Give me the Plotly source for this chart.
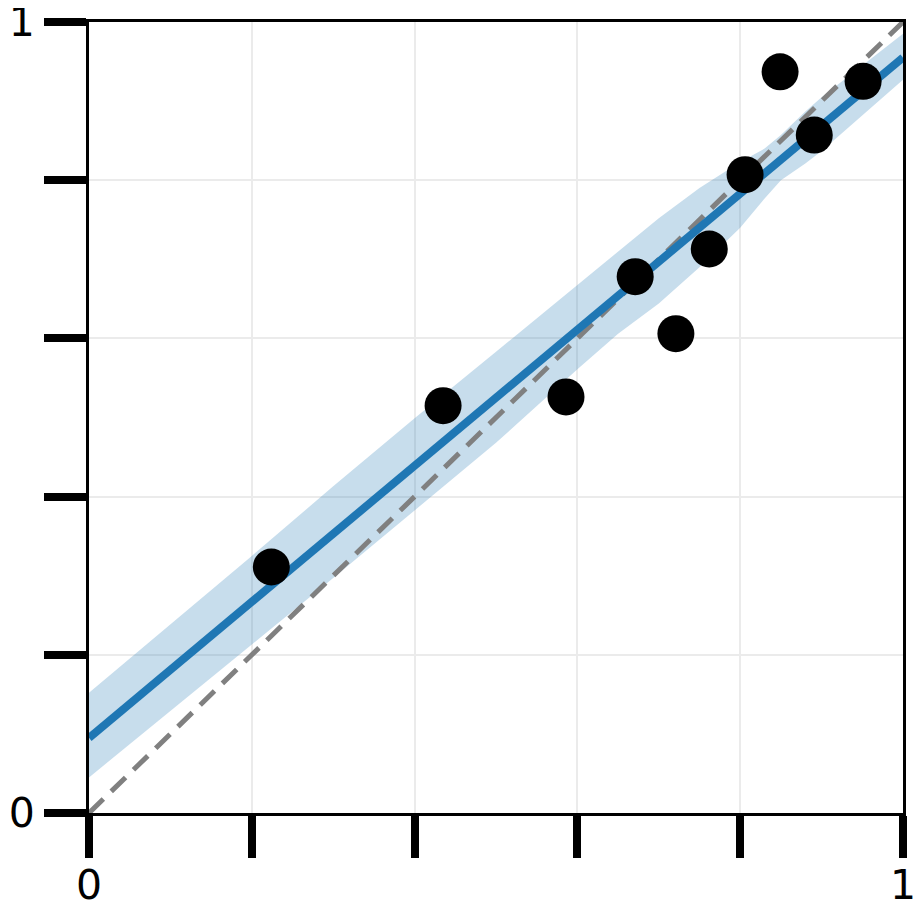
"""Калибровочный график: точки, регрессия и доверительная полоса."""

import plotly.graph_objects as go

# наблюдения
pts_x = [0.224, 0.435, 0.586, 0.671, 0.721, 0.762, 0.806, 0.849, 0.891, 0.951]
pts_y = [0.311, 0.515, 0.526, 0.678, 0.606, 0.713, 0.807, 0.937, 0.857, 0.925]

# линия регрессии
fit_x = [0.0, 1.0]
fit_y = [0.095, 0.955]

# доверительная полоса
band_x = [0.0, 0.1, 0.2, 0.3, 0.4, 0.5, 0.6, 0.65, 0.7, 0.75, 0.8, 0.83,
          0.85, 0.88, 0.9, 0.95, 1.0]
band_hi = [0.152, 0.238, 0.325, 0.413, 0.499, 0.583, 0.667, 0.710, 0.752,
           0.790, 0.823, 0.840, 0.857, 0.887, 0.905, 0.945, 0.985]
band_lo = [0.045, 0.129, 0.213, 0.297, 0.382, 0.468, 0.561, 0.606, 0.644,
           0.690, 0.740, 0.777, 0.800, 0.821, 0.837, 0.882, 0.927]

# диагональ y = x
diag_x = [0.0, 1.0]
diag_y = [0.0, 1.0]

tick_vals = [0, 0.2, 0.4, 0.6, 0.8, 1]
tick_text = ["0", "", "", "", "", "1"]

fig = go.Figure()

fig.add_trace(go.Scatter(
    x=band_x + band_x[::-1],
    y=band_hi + band_lo[::-1],
    fill="toself",
    fillcolor="rgba(31,119,180,0.25)",
    line=dict(width=0),
    mode="lines",
    hoverinfo="skip",
))
fig.add_trace(go.Scatter(
    x=diag_x, y=diag_y, mode="lines",
    line=dict(color="#808080", width=5, dash="20px,11px"),
))
fig.add_trace(go.Scatter(
    x=fit_x, y=fit_y, mode="lines",
    line=dict(color="#1f77b4", width=8),
))
fig.add_trace(go.Scatter(
    x=pts_x, y=pts_y, mode="markers",
    marker=dict(color="black", size=37),
))

axis_style = dict(
    range=[0, 1],
    tickvals=tick_vals,
    ticktext=tick_text,
    ticks="outside",
    ticklen=42,
    tickwidth=8,
    tickcolor="black",
    showline=True,
    linecolor="black",
    linewidth=3,
    mirror=True,
    showgrid=True,
    gridcolor="#ebebeb",
    gridwidth=2,
    zeroline=False,
    automargin=False,
    ticklabeloverflow="allow",
    tickfont=dict(family="DejaVu Sans", size=41, color="black"),
)

# у страницы есть отступ body 8px, поэтому фигура чуть меньше окна
fig.update_layout(
    width=913,
    height=908,
    margin=dict(l=81, r=18, t=14, b=103),
    plot_bgcolor="white",
    paper_bgcolor="white",
    showlegend=False,
    xaxis=dict(axis_style, ticklabelstandoff=-8),
    yaxis=dict(axis_style, ticklabelstandoff=1),
)

fig.write_html("out.html")
